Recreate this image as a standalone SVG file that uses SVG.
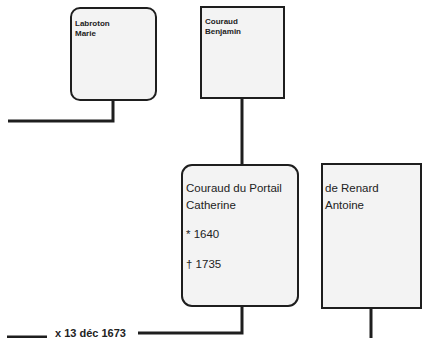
<svg xmlns="http://www.w3.org/2000/svg" width="430" height="338" viewBox="0 0 430 338">
<style>
.box{fill:#f3f3f3;stroke:#1e1e1e;stroke-width:2}
.con{fill:none;stroke:#1e1e1e;stroke-width:3}
.s{font-family:"Liberation Sans",Arial,sans-serif;font-size:8px;font-weight:bold;fill:#222}
.t{font-family:"Liberation Sans",Arial,sans-serif;font-size:11.5px;fill:#222}
.m{font-family:"Liberation Sans",Arial,sans-serif;font-size:11px;font-weight:bold;fill:#222}
</style>
<rect width="430" height="338" fill="#ffffff"/>
<g id="connectors">
<polyline class="con" points="8,121 113,121 113,100"/>
<line class="con" x1="242" y1="98" x2="242" y2="165"/>
<polyline class="con" points="138,333 242,333 242,306"/>
<line class="con" x1="7" y1="337" x2="47" y2="337"/>
<line class="con" x1="371" y1="308" x2="371" y2="338"/>
</g>
<g id="labroton">
<rect class="box" x="71" y="8" width="85" height="92" rx="9"/>
<text class="s" x="75" y="26">Labroton</text>
<text class="s" x="75" y="36">Marie</text>
</g>
<g id="couraud-benjamin">
<rect class="box" x="201" y="7" width="83" height="91"/>
<text class="s" x="205" y="24">Couraud</text>
<text class="s" x="205" y="34">Benjamin</text>
</g>
<g id="couraud-catherine">
<rect class="box" x="182" y="165" width="116" height="141" rx="10"/>
<text class="t" x="186" y="192">Couraud du Portail</text>
<text class="t" x="186" y="209">Catherine</text>
<text class="t" x="186" y="238">* 1640</text>
<text class="t" x="186" y="268">† 1735</text>
</g>
<g id="renard">
<rect class="box" x="322" y="164" width="99" height="144"/>
<text class="t" x="325" y="192">de Renard</text>
<text class="t" x="325" y="209">Antoine</text>
</g>
<g id="marriage">
<text class="m" x="55" y="337">x 13 déc 1673</text>
</g>
</svg>
